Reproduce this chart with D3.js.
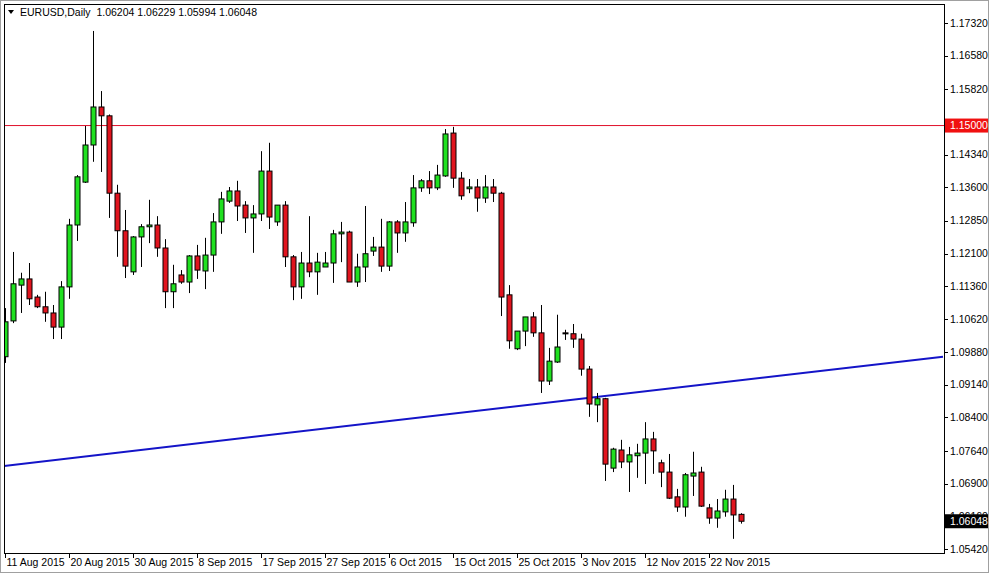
<!DOCTYPE html>
<html>
<head>
<meta charset="utf-8">
<script src="https://cdn.jsdelivr.net/npm/d3@7"></script>
<style>
  body { margin: 0; background: #fff; }
  svg text { font-family: "Liberation Sans", Arial, sans-serif; font-size: 10.5px; fill: #000; }
</style>
</head>
<body>
<svg id="chart"></svg>
<script>
// daily candles from 11 Aug 2015, [open, high, low, close]
const candles = [
  [1.0977,1.1087,1.0963,1.1056],[1.1058,1.1214,1.1053,1.1142],[1.1139,1.1167,1.1076,1.1153],[1.1153,1.1189,1.1094,1.1108],
  [1.1112,1.1117,1.1087,1.1090],[1.1090,1.1124,1.1056,1.1076],[1.1076,1.1094,1.1017,1.1044],[1.1044,1.1148,1.1017,1.1135],
  [1.1135,1.1289,1.1108,1.1275],[1.1275,1.1388,1.1239,1.1384],[1.1372,1.1499,1.1370,1.1456],[1.1456,1.1714,1.1418,1.1542],
  [1.1542,1.1578,1.1395,1.1522],[1.1522,1.1525,1.1291,1.1347],[1.1347,1.1366,1.1203,1.1262],[1.1262,1.1309,1.1155,1.1182],
  [1.1169,1.1250,1.1162,1.1248],[1.1248,1.1277,1.1180,1.1271],[1.1271,1.1332,1.1234,1.1275],[1.1275,1.1295,1.1203,1.1223],
  [1.1223,1.1243,1.1087,1.1124],[1.1124,1.1185,1.1087,1.1142],[1.1162,1.1173,1.1142,1.1146],[1.1146,1.1207,1.1121,1.1205],
  [1.1205,1.1230,1.1153,1.1173],[1.1171,1.1246,1.1130,1.1207],[1.1207,1.1302,1.1169,1.1282],[1.1282,1.1350,1.1255,1.1334],
  [1.1329,1.1361,1.1325,1.1352],[1.1352,1.1375,1.1284,1.1318],[1.1320,1.1329,1.1257,1.1291],[1.1291,1.1320,1.1212,1.1300],
  [1.1300,1.1442,1.1284,1.1397],[1.1397,1.1461,1.1266,1.1293],[1.1282,1.1320,1.1273,1.1320],[1.1320,1.1329,1.1180,1.1203],
  [1.1203,1.1207,1.1105,1.1135],[1.1135,1.1214,1.1108,1.1189],[1.1189,1.1295,1.1157,1.1169],[1.1169,1.1212,1.1117,1.1191],
  [1.1180,1.1214,1.1180,1.1189],[1.1189,1.1264,1.1144,1.1255],[1.1255,1.1282,1.1191,1.1259],[1.1259,1.1262,1.1146,1.1146],
  [1.1146,1.1210,1.1135,1.1180],[1.1180,1.1318,1.1146,1.1210],[1.1216,1.1248,1.1205,1.1225],[1.1225,1.1289,1.1169,1.1182],
  [1.1182,1.1284,1.1171,1.1282],[1.1282,1.1286,1.1212,1.1257],[1.1257,1.1327,1.1237,1.1282],[1.1280,1.1388,1.1271,1.1359],
  [1.1359,1.1379,1.1350,1.1375],[1.1375,1.1397,1.1345,1.1359],[1.1359,1.1411,1.1354,1.1388],[1.1386,1.1492,1.1384,1.1481],
  [1.1483,1.1497,1.1359,1.1381],[1.1381,1.1395,1.1332,1.1341],[1.1357,1.1379,1.1347,1.1361],[1.1361,1.1379,1.1305,1.1336],
  [1.1336,1.1388,1.1325,1.1361],[1.1361,1.1379,1.1327,1.1347],[1.1347,1.1350,1.1069,1.1112],[1.1117,1.1139,1.0995,1.1013],
  [1.0995,1.1035,1.0992,1.1035],[1.1035,1.1067,1.1001,1.1067],[1.1067,1.1078,1.1022,1.1031],[1.1031,1.1094,1.0895,1.0922],
  [1.0922,1.0997,1.0913,1.0967],[1.0965,1.1072,1.0963,1.0999],[1.1031,1.1038,1.1015,1.1030],[1.1029,1.1051,1.0997,1.1017],
  [1.1017,1.1029,1.0934,1.0949],[1.0949,1.0956,1.0841,1.0870],[1.0868,1.0895,1.0829,1.0882],[1.0882,1.0884,1.0696,1.0734],
  [1.0725,1.0771,1.0716,1.0768],[1.0766,1.0789,1.0725,1.0739],[1.0739,1.0773,1.0671,1.0755],[1.0753,1.0780,1.0703,1.0759],
  [1.0759,1.0829,1.0689,1.0791],[1.0791,1.0807,1.0712,1.0764],[1.0737,1.0744,1.0682,1.0716],[1.0716,1.0757,1.0655,1.0657],
  [1.0660,1.0678,1.0626,1.0637],[1.0637,1.0714,1.0615,1.0710],[1.0707,1.0762,1.0662,1.0714],[1.0716,1.0728,1.0637,1.0639],
  [1.0635,1.0644,1.0599,1.0612],[1.0612,1.0655,1.0590,1.0628],[1.0626,1.0676,1.0615,1.0655],[1.0655,1.0687,1.0565,1.0619],
  [1.06204,1.06229,1.05994,1.06048]
];
const priceTicks = [1.17320,1.16580,1.15820,1.14340,1.13600,1.12850,1.12100,1.11360,1.10620,1.09880,1.09140,1.08400,1.07640,1.06900,1.06160,1.05420];
const dateTicks = [
  [0,"11 Aug 2015"],[8,"20 Aug 2015"],[16,"30 Aug 2015"],[24,"8 Sep 2015"],[32,"17 Sep 2015"],[40,"27 Sep 2015"],
  [48,"6 Oct 2015"],[56,"15 Oct 2015"],[64,"25 Oct 2015"],[72,"3 Nov 2015"],[80,"12 Nov 2015"],[88,"22 Nov 2015"]
];
const hLevel = 1.15000;
const trendLine = [[-0.125, 1.0730], [117.25, 1.0977]];
const title = "EURUSD,Daily  1.06204 1.06229 1.05994 1.06048";

const W = 989, H = 573;
const L = 4, R = 944, T = 4, B = 553;
const svg = d3.select("#chart").attr("width", W).attr("height", H);

const x = d3.scaleLinear().domain([-0.125, 117.25]).range([L, R - 1]);
const y = d3.scaleLinear().domain([1.0542, 1.1732]).range([549, 23]);

svg.append("rect").attr("x", 0.5).attr("y", 0.5).attr("width", W - 1).attr("height", H - 1)
  .attr("fill", "#fff").attr("stroke", "#a0a0a0");

const plot = svg.append("g");
plot.append("clipPath").attr("id", "clip").append("rect")
  .attr("x", L).attr("y", T).attr("width", R - L).attr("height", B - T);

const g = plot.append("g").attr("clip-path", "url(#clip)");

// horizontal level and trend line
g.append("line").attr("x1", L).attr("x2", R).attr("y1", y(hLevel)).attr("y2", y(hLevel))
  .attr("stroke", "#e0102a").attr("stroke-width", 1);
g.append("line")
  .attr("x1", x(trendLine[0][0])).attr("y1", y(trendLine[0][1]))
  .attr("x2", x(trendLine[1][0])).attr("y2", y(trendLine[1][1]))
  .attr("stroke", "#1414c8").attr("stroke-width", 2);

// candles
const c = g.selectAll("g.candle").data(candles).enter().append("g");
c.append("line")
  .attr("x1", (d, i) => Math.round(x(i)) + 0.5).attr("x2", (d, i) => Math.round(x(i)) + 0.5)
  .attr("y1", d => y(d[1])).attr("y2", d => y(d[2]))
  .attr("stroke", "#000").attr("stroke-width", 1);
c.append("rect")
  .attr("x", (d, i) => Math.round(x(i)) - 2)
  .attr("y", d => y(Math.max(d[0], d[3])))
  .attr("width", 5)
  .attr("height", d => Math.max(1, Math.abs(y(d[0]) - y(d[3]))))
  .attr("fill", d => d[3] >= d[0] ? "#20e020" : "#e0141e")
  .attr("stroke", "#000").attr("stroke-width", 1);

// frame
svg.append("rect").attr("x", L + 0.5).attr("y", T + 0.5).attr("width", R - L).attr("height", B - T)
  .attr("fill", "none").attr("stroke", "#000");

// right price axis
const ya = svg.append("g");
priceTicks.forEach(p => {
  ya.append("line").attr("x1", R).attr("x2", R + 4).attr("y1", Math.round(y(p)) + 0.5).attr("y2", Math.round(y(p)) + 0.5).attr("stroke", "#000");
  ya.append("text").attr("x", R + 6).attr("y", y(p)).attr("dy", "0.35em").text(p.toFixed(5));
});
function priceTag(p, bg) {
  ya.append("rect").attr("x", R + 1).attr("y", y(p) - 7).attr("width", 43).attr("height", 14).attr("fill", bg);
  ya.append("text").attr("x", R + 6).attr("y", y(p)).attr("dy", "0.35em").style("fill", "#fff").text(p.toFixed(5));
}
priceTag(hLevel, "#f01010");
priceTag(candles[candles.length - 1][3], "#000");

// bottom date axis
dateTicks.forEach(([i, lab]) => {
  const xx = Math.round(x(i)) + 0.5;
  svg.append("line").attr("x1", xx).attr("x2", xx).attr("y1", B).attr("y2", B + 5).attr("stroke", "#000");
  svg.append("text").attr("x", xx + 1).attr("y", 566).text(lab);
});

// title
svg.append("path").attr("d", "M8,10 L14,10 L11,14 Z").attr("fill", "#000");
svg.append("text").attr("x", 20).attr("y", 16).attr("xml:space", "preserve").text(title);
</script>
</body>
</html>
